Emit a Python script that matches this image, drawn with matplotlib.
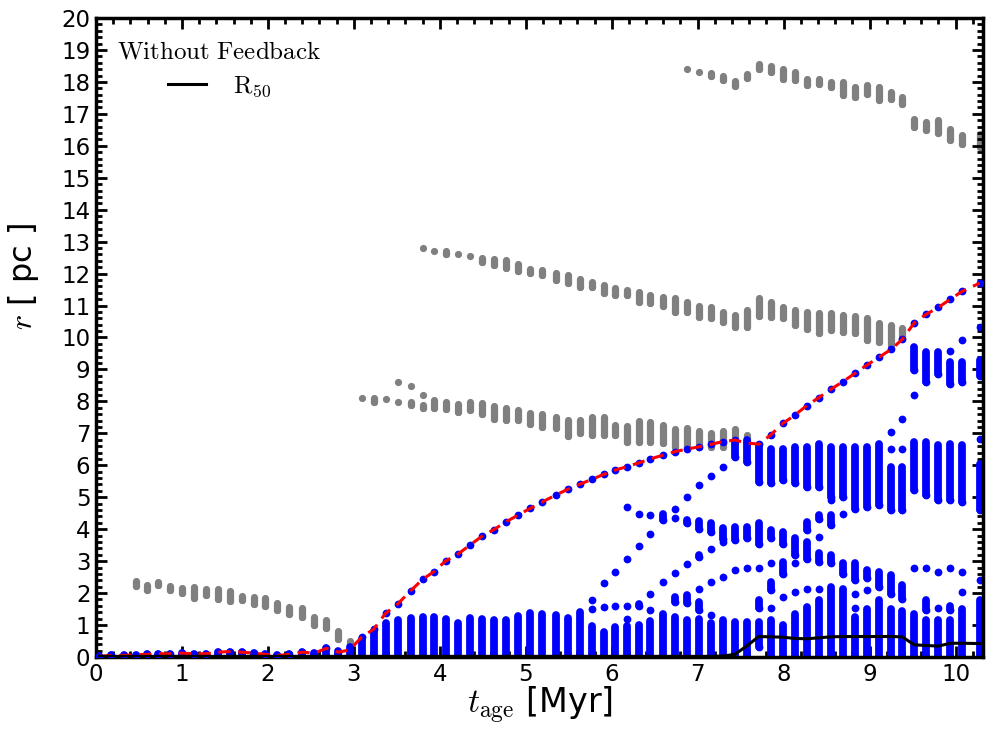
import numpy as np
import matplotlib
matplotlib.use('Agg')
import matplotlib.pyplot as plt
from matplotlib.ticker import MultipleLocator

plt.rcParams['mathtext.fontset'] = 'cm'
plt.rcParams['font.family'] = 'DejaVu Sans'

# snapshot times [Myr]
t_snap = [0.04, 0.18, 0.32, 0.46, 0.59, 0.72, 0.86, 1.00, 1.14, 1.28, 1.42, 1.56, 1.70, 1.84,
          1.97, 2.11, 2.25, 2.40, 2.54, 2.68, 2.82, 2.95, 3.09, 3.23, 3.37, 3.51, 3.66, 3.80,
          3.93, 4.07, 4.21, 4.35, 4.49, 4.63, 4.77, 4.91, 5.05, 5.19, 5.35, 5.49, 5.63, 5.77,
          5.91, 6.04, 6.18, 6.32, 6.45, 6.60, 6.74, 6.88, 7.02, 7.16, 7.29, 7.43, 7.57, 7.71,
          7.85, 7.99, 8.13, 8.27, 8.41, 8.55, 8.69, 8.83, 8.97, 9.11, 9.25, 9.38, 9.52, 9.66,
          9.80, 9.94, 10.08, 10.28]

# outermost star radius [pc]
r_max = [0.02, 0.05, 0.05, 0.07, 0.08, 0.10, 0.10, 0.12, 0.10, 0.10, 0.15, 0.17, 0.15, 0.12,
         0.08, 0.05, 0.08, 0.15, 0.12, 0.27, 0.15, 0.22,
         0.62, 0.87, 1.37, 1.66, 2.07, 2.43, 2.67, 3.01, 3.22, 3.50, 3.78, 3.99, 4.23, 4.44, 4.65,
         4.85, 5.07, 5.25, 5.41, 5.56, 5.72, 5.85, 5.96, 6.08, 6.20, 6.32, 6.43, 6.51, 6.58,
         6.66, 6.74, 6.79,
         6.70, 6.66, 6.95, 7.31, 7.57, 7.87, 8.12, 8.38, 8.62, 8.88, 9.14, 9.38, 9.63, 9.94,
         10.46, 10.73, 10.94, 11.20, 11.45, 11.70]

# half mass radius [pc]
r50 = [0.02] * 52 + [0.03, 0.08, 0.34, 0.64, 0.63, 0.62, 0.58, 0.57, 0.60, 0.63, 0.64, 0.64,
                     0.64, 0.64, 0.64, 0.63, 0.38, 0.36, 0.34, 0.43, 0.43, 0.42]

# blue stars: (lo, hi) radius ranges per snapshot
blue_cols = [
    [(0.0, 0.03)], [(0.0, 0.05)], [(0.0, 0.05)], [(0.0, 0.07)], [(0.0, 0.08)], [(0.0, 0.10)],
    [(0.0, 0.10)], [(0.0, 0.12)], [(0.0, 0.10)], [(0.0, 0.10)], [(0.0, 0.15)], [(0.0, 0.17)],
    [(0.0, 0.15)], [(0.0, 0.12)], [(0.0, 0.08)], [(0.0, 0.05)], [(0.0, 0.08)], [(0.0, 0.17)],
    [(0.0, 0.12)], [(0.0, 0.27)], [(0.0, 0.20)], [(0.0, 0.30)],
    [(0.0, 0.55)], [(0.0, 0.80)], [(0.0, 1.05)], [(0.0, 1.16)], [(0.0, 1.21)], [(0.0, 1.26)],
    [(0.0, 1.26)], [(0.0, 1.18)], [(0.0, 1.05)], [(0.0, 1.21)], [(0.0, 1.18)], [(0.0, 1.16)],
    [(0.0, 1.16)], [(0.0, 1.28)], [(0.0, 1.37)],
    [(0.0, 1.36)], [(0.0, 1.31)], [(0.0, 1.22)], [(0.0, 1.40)],
    [(0.0, 0.97), (1.49, 1.49), (1.78, 1.78)],
    [(0.0, 0.79), (1.57, 1.57), (2.30, 2.30)],
    [(0.0, 0.95), (1.60, 1.60), (2.67, 2.67)],
    [(0.0, 0.97), (1.20, 1.20), (1.60, 1.60), (3.08, 3.08), (4.70, 4.70)],
    [(0.0, 1.00), (1.60, 1.65), (3.48, 3.48), (4.49, 4.49)],
    [(0.0, 1.14), (1.47, 1.47), (1.98, 1.98), (3.86, 3.86), (4.44, 4.44)],
    [(0.0, 1.36), (2.35, 2.35), (4.28, 4.49)],
    [(0.0, 1.24), (1.73, 1.88), (2.64, 2.64), (4.36, 4.36), (4.64, 4.64)],
    [(0.0, 1.16), (1.68, 1.93), (2.91, 2.91), (4.18, 4.28), (5.00, 5.00)],
    [(0.0, 1.20), (1.47, 1.72), (2.14, 2.14), (3.13, 3.20), (4.00, 4.25), (5.38, 5.38)],
    [(0.0, 1.05), (1.31, 1.31), (2.35, 2.35), (3.37, 3.37), (3.92, 4.20), (5.66, 5.66)],
    [(0.0, 1.16), (2.50, 2.50), (3.60, 3.60), (3.70, 4.05), (5.95, 5.95)],
    [(0.0, 1.10), (2.72, 2.72), (3.66, 4.07), (6.26, 6.73)],
    [(0.0, 1.10), (2.77, 2.77), (3.71, 4.07), (6.10, 6.78)],
    [(0.32, 1.10), (1.52, 1.78), (2.77, 2.77), (3.55, 4.18), (5.48, 6.62)],
    [(0.0, 1.16), (1.52, 1.52), (2.09, 2.35), (2.93, 2.93), (3.71, 3.97), (5.43, 6.52)],
    [(0.0, 1.00), (1.88, 1.88), (2.61, 2.98), (3.55, 3.92), (5.53, 6.52)],
    [(0.0, 1.36), (2.04, 2.04), (2.93, 2.93), (3.20, 3.71), (5.43, 6.57)],
    [(0.0, 1.57), (2.14, 2.14), (3.08, 3.60), (3.97, 4.23), (5.32, 6.57)],
    [(0.0, 1.78), (2.14, 2.14), (2.98, 3.24), (3.76, 3.76), (4.33, 4.44), (5.32, 6.67)],
    [(0.0, 2.20), (2.93, 3.20), (4.13, 4.44), (4.90, 4.90), (5.00, 6.57)],
    [(0.0, 2.14), (2.61, 2.93), (4.49, 4.49), (5.00, 6.57)],
    [(0.0, 1.26), (1.52, 1.52), (1.98, 1.98), (2.41, 2.93), (4.64, 6.57)],
    [(0.0, 1.50), (2.09, 2.09), (2.46, 2.72), (4.70, 6.57)],
    [(0.0, 1.78), (2.20, 2.67), (4.75, 6.67)],
    [(0.0, 1.50), (1.98, 2.57), (4.59, 5.95), (6.52, 6.52), (7.04, 7.04)],
    [(0.0, 1.45), (1.83, 2.25), (4.59, 5.95), (6.52, 6.52), (7.46, 7.46)],
    [(0.0, 1.36), (2.77, 2.77), (5.22, 6.73), (8.21, 8.21), (8.97, 9.70)],
    [(0.0, 1.16), (1.47, 1.78), (2.77, 2.77), (5.06, 6.73), (8.60, 9.54)],
    [(0.0, 1.16), (1.52, 1.52), (2.67, 2.67), (4.90, 6.62), (8.87, 9.54)],
    [(0.0, 1.16), (1.47, 1.60), (2.77, 2.77), (4.90, 6.67), (8.55, 9.23), (9.59, 9.59)],
    [(0.0, 1.50), (2.04, 2.04), (2.67, 2.67), (4.85, 6.62), (8.60, 9.23), (9.93, 9.93)],
    [(0.0, 1.78), (2.41, 2.41), (4.59, 6.05), (6.83, 6.83), (8.81, 9.28), (10.34, 10.34)],
]

# grey stars (escapers), one track each: time, lower and upper radius
gray1_t = [0.46, 0.59, 0.72, 0.86, 1.00, 1.14, 1.28, 1.42, 1.56, 1.70, 1.84, 1.97, 2.11, 2.25,
           2.40, 2.54, 2.68, 2.82, 2.95]
gray1_lo = [2.22, 2.11, 2.24, 2.11, 2.01, 1.85, 1.93, 1.82, 1.75, 1.77, 1.65, 1.59, 1.47, 1.33,
            1.26, 0.99, 0.92, 0.55, 0.34]
gray1_hi = [2.39, 2.26, 2.34, 2.23, 2.16, 2.18, 2.13, 2.13, 2.05, 1.92, 1.87, 1.84, 1.68, 1.55,
            1.53, 1.24, 1.16, 0.82, 0.51]

gray2_t = [3.09, 3.23, 3.37, 3.51, 3.51, 3.66, 3.66, 3.80, 3.80, 3.93, 4.07, 4.21, 4.35, 4.49,
           4.63, 4.77, 4.91, 5.05, 5.19, 5.35, 5.49, 5.63, 5.77, 5.91, 6.04, 6.18, 6.32, 6.45,
           6.60, 6.74, 6.88, 7.02, 7.16, 7.29, 7.43, 7.57]
gray2_lo = [8.12, 7.99, 8.06, 7.99, 8.62, 7.89, 8.48, 7.78, 8.20, 7.78, 7.75, 7.68, 7.72, 7.61,
            7.44, 7.42, 7.42, 7.30, 7.19, 7.18, 6.92, 7.00, 6.95, 6.95, 6.95, 6.74, 6.74, 6.74,
            6.70, 6.58, 6.58, 6.58, 6.58, 6.58, 6.69, 6.74]
gray2_hi = [8.12, 8.12, 8.06, 7.99, 8.62, 7.99, 8.48, 7.90, 8.20, 8.04, 7.99, 7.92, 7.99, 7.94,
            7.86, 7.78, 7.73, 7.65, 7.60, 7.50, 7.42, 7.42, 7.52, 7.52, 7.26, 7.22, 7.40, 7.36,
            7.26, 7.13, 7.16, 7.08, 7.00, 7.08, 7.13, 6.95]

gray3_t = [3.80, 3.93, 4.07, 4.21, 4.35, 4.49, 4.63, 4.77, 4.91, 5.05, 5.19, 5.35, 5.49, 5.63,
           5.77, 5.91, 6.04, 6.18, 6.32, 6.45, 6.60, 6.74, 6.88, 7.02, 7.16, 7.29, 7.43, 7.57,
           7.71, 7.85, 7.99, 8.13, 8.27, 8.41, 8.55, 8.69, 8.83, 8.97, 9.11, 9.25, 9.38]
gray3_lo = [12.80, 12.72, 12.62, 12.60, 12.55, 12.37, 12.27, 12.18, 12.08, 12.02, 11.95, 11.80,
            11.69, 11.59, 11.59, 11.40, 11.33, 11.33, 11.12, 11.09, 10.99, 10.81, 10.81, 10.63,
            10.60, 10.50, 10.34, 10.34, 10.67, 10.65, 10.60, 10.39, 10.28, 10.13, 10.23, 10.18,
            10.13, 9.92, 9.87, 9.77, 9.95]
gray3_hi = [12.80, 12.72, 12.72, 12.60, 12.55, 12.50, 12.47, 12.41, 12.31, 12.15, 12.10, 12.02,
            11.95, 11.82, 11.75, 11.64, 11.54, 11.48, 11.43, 11.33, 11.28, 11.23, 11.12, 10.99,
            10.94, 10.81, 10.70, 10.86, 11.23, 11.12, 10.96, 10.86, 10.81, 10.78, 10.76, 10.70,
            10.67, 10.60, 10.44, 10.39, 10.30]

gray4_t = [6.88, 7.02, 7.16, 7.29, 7.43, 7.57, 7.71, 7.85, 7.99, 8.13, 8.27, 8.41, 8.55, 8.69,
           8.83, 8.97, 9.11, 9.25, 9.38, 9.52, 9.66, 9.80, 9.94, 10.08, 10.28]
gray4_lo = [18.40, 18.31, 18.19, 18.05, 17.87, 18.11, 18.40, 18.30, 18.10, 18.05, 17.90, 17.93,
            17.83, 17.60, 17.53, 17.62, 17.44, 17.47, 17.32, 16.60, 16.49, 16.39, 16.18, 16.05,
            15.95]
gray4_hi = [18.40, 18.31, 18.29, 18.19, 18.03, 18.26, 18.57, 18.50, 18.40, 18.30, 18.10, 18.08,
            18.00, 18.00, 17.83, 17.90, 17.83, 17.68, 17.53, 16.85, 16.75, 16.82, 16.54, 16.35,
            16.36]

blue_c = '#0000ff'
gray_c = '#808080'
dot_lw = 5.6   # dot diameter in points
gray_lw = 5.2

fig = plt.figure(figsize=(9.96, 7.29), dpi=100)
ax = fig.add_axes([0.0964, 0.0988, 0.8906, 0.8765])

# grey tracks
for tt, lo, hi in [(gray1_t, gray1_lo, gray1_hi), (gray2_t, gray2_lo, gray2_hi),
                   (gray3_t, gray3_lo, gray3_hi), (gray4_t, gray4_lo, gray4_hi)]:
    ax.vlines(tt, lo, hi, colors=gray_c, linewidth=gray_lw, capstyle='round', zorder=1)
    ax.scatter(tt, lo, s=gray_lw ** 2, color=gray_c, lw=0, zorder=1)

# blue stars
seg_t, seg_lo, seg_hi = [], [], []
for t, segs in zip(t_snap, blue_cols):
    for lo, hi in segs:
        seg_t.append(t)
        seg_lo.append(lo)
        seg_hi.append(hi)
ax.vlines(seg_t, seg_lo, seg_hi, colors=blue_c, linewidth=dot_lw, capstyle='round', zorder=2)
ax.scatter(seg_t, seg_lo, s=dot_lw ** 2, color=blue_c, lw=0, zorder=2)

# outermost star + red dashed envelope
ax.scatter(t_snap, r_max, s=dot_lw ** 2, color=blue_c, lw=0, zorder=3)
ax.plot(t_snap, r_max, '--', color='red', lw=2.2, dashes=(4, 2.5), zorder=4)

# half-mass radius
ax.plot(t_snap, r50, '-', color='black', lw=2.2, zorder=5, label=r'$\mathrm{R_{50}}$')

ax.set_xlim(0, 10.32)
ax.set_ylim(0, 20)
ax.xaxis.set_major_locator(MultipleLocator(1))
ax.xaxis.set_minor_locator(MultipleLocator(0.2))
ax.yaxis.set_major_locator(MultipleLocator(1))
ax.yaxis.set_minor_locator(MultipleLocator(0.2))
ax.tick_params(which='both', direction='in', top=True, right=True, width=2)
ax.tick_params(which='major', length=8, labelsize=16.5, pad=4)
ax.tick_params(which='minor', length=4)
for sp in ax.spines.values():
    sp.set_linewidth(2.5)

ax.set_xlabel(r'$t_{\rm age}$ [Myr]', fontsize=24, labelpad=-1)
ax.set_ylabel(r'$r$ [ pc ]', fontsize=23, labelpad=4)
ax.yaxis.set_label_coords(-0.062, 0.595)

leg = ax.legend(loc='upper left', frameon=False, fontsize=18,
                title=r'$\mathrm{Without\ Feedback}$', title_fontsize=18,
                handlelength=1.55, handletextpad=1.05, borderaxespad=0.45,
                labelspacing=0.4)

fig.savefig('out.png', dpi=100)
